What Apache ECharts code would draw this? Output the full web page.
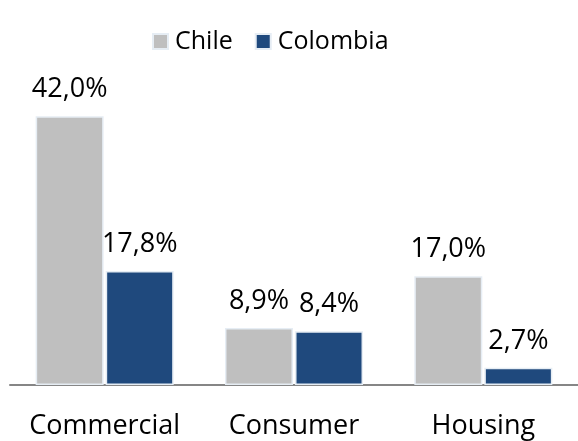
<!DOCTYPE html>
<html><head><meta charset="utf-8">
<script src="https://cdn.jsdelivr.net/npm/echarts@6/dist/echarts.min.js"></script>
<style>html,body{margin:0;padding:0;background:#fff}#c{width:578px;height:441px}</style>
</head><body><div id="c"></div>
<script>
const categories = ['Commercial', 'Consumer', 'Housing'];
const chile = [42.0, 8.9, 17.0];
const colombia = [17.8, 8.4, 2.7];
const seriesNames = ['Chile', 'Colombia'];

const fmt = p => p.value.toFixed(1).replace('.', ',') + '%';
const font = 'Open Sans';
const chart = echarts.init(document.getElementById('c'), null, {renderer: 'canvas'});
const mk = (name, data, color) => ({
  name, type: 'bar', data, barWidth: 68, barGap: '3%',
  itemStyle: {color, borderColor: '#E6EDF4', borderWidth: 1.5},
  label: {show: true, position: 'top', distance: 13, formatter: fmt,
    fontFamily: font, fontSize: 27, color: '#000'}
});
chart.setOption({
  animation: false,
  legend: {top: 24, left: 147, itemWidth: 15, itemHeight: 15, itemGap: 22, icon: 'rect',
    textStyle: {fontFamily: font, fontSize: 25, color: '#000', padding: [0, 0, 0, 2]},
    data: seriesNames},
  grid: {left: 10, right: -3, top: 65, bottom: 56, containLabel: false},
  xAxis: {type: 'category', data: categories,
    axisLine: {lineStyle: {color: '#868686', width: 2}},
    axisTick: {show: false},
    axisLabel: {interval: 0, fontFamily: font, fontSize: 27, color: '#000', margin: 28}},
  yAxis: {type: 'value', min: 0, max: 50, show: false, splitLine: {show: false}},
  series: [mk(seriesNames[0], chile, '#BFBFBF'), mk(seriesNames[1], colombia, '#1F497D')]
});
</script></body></html>
